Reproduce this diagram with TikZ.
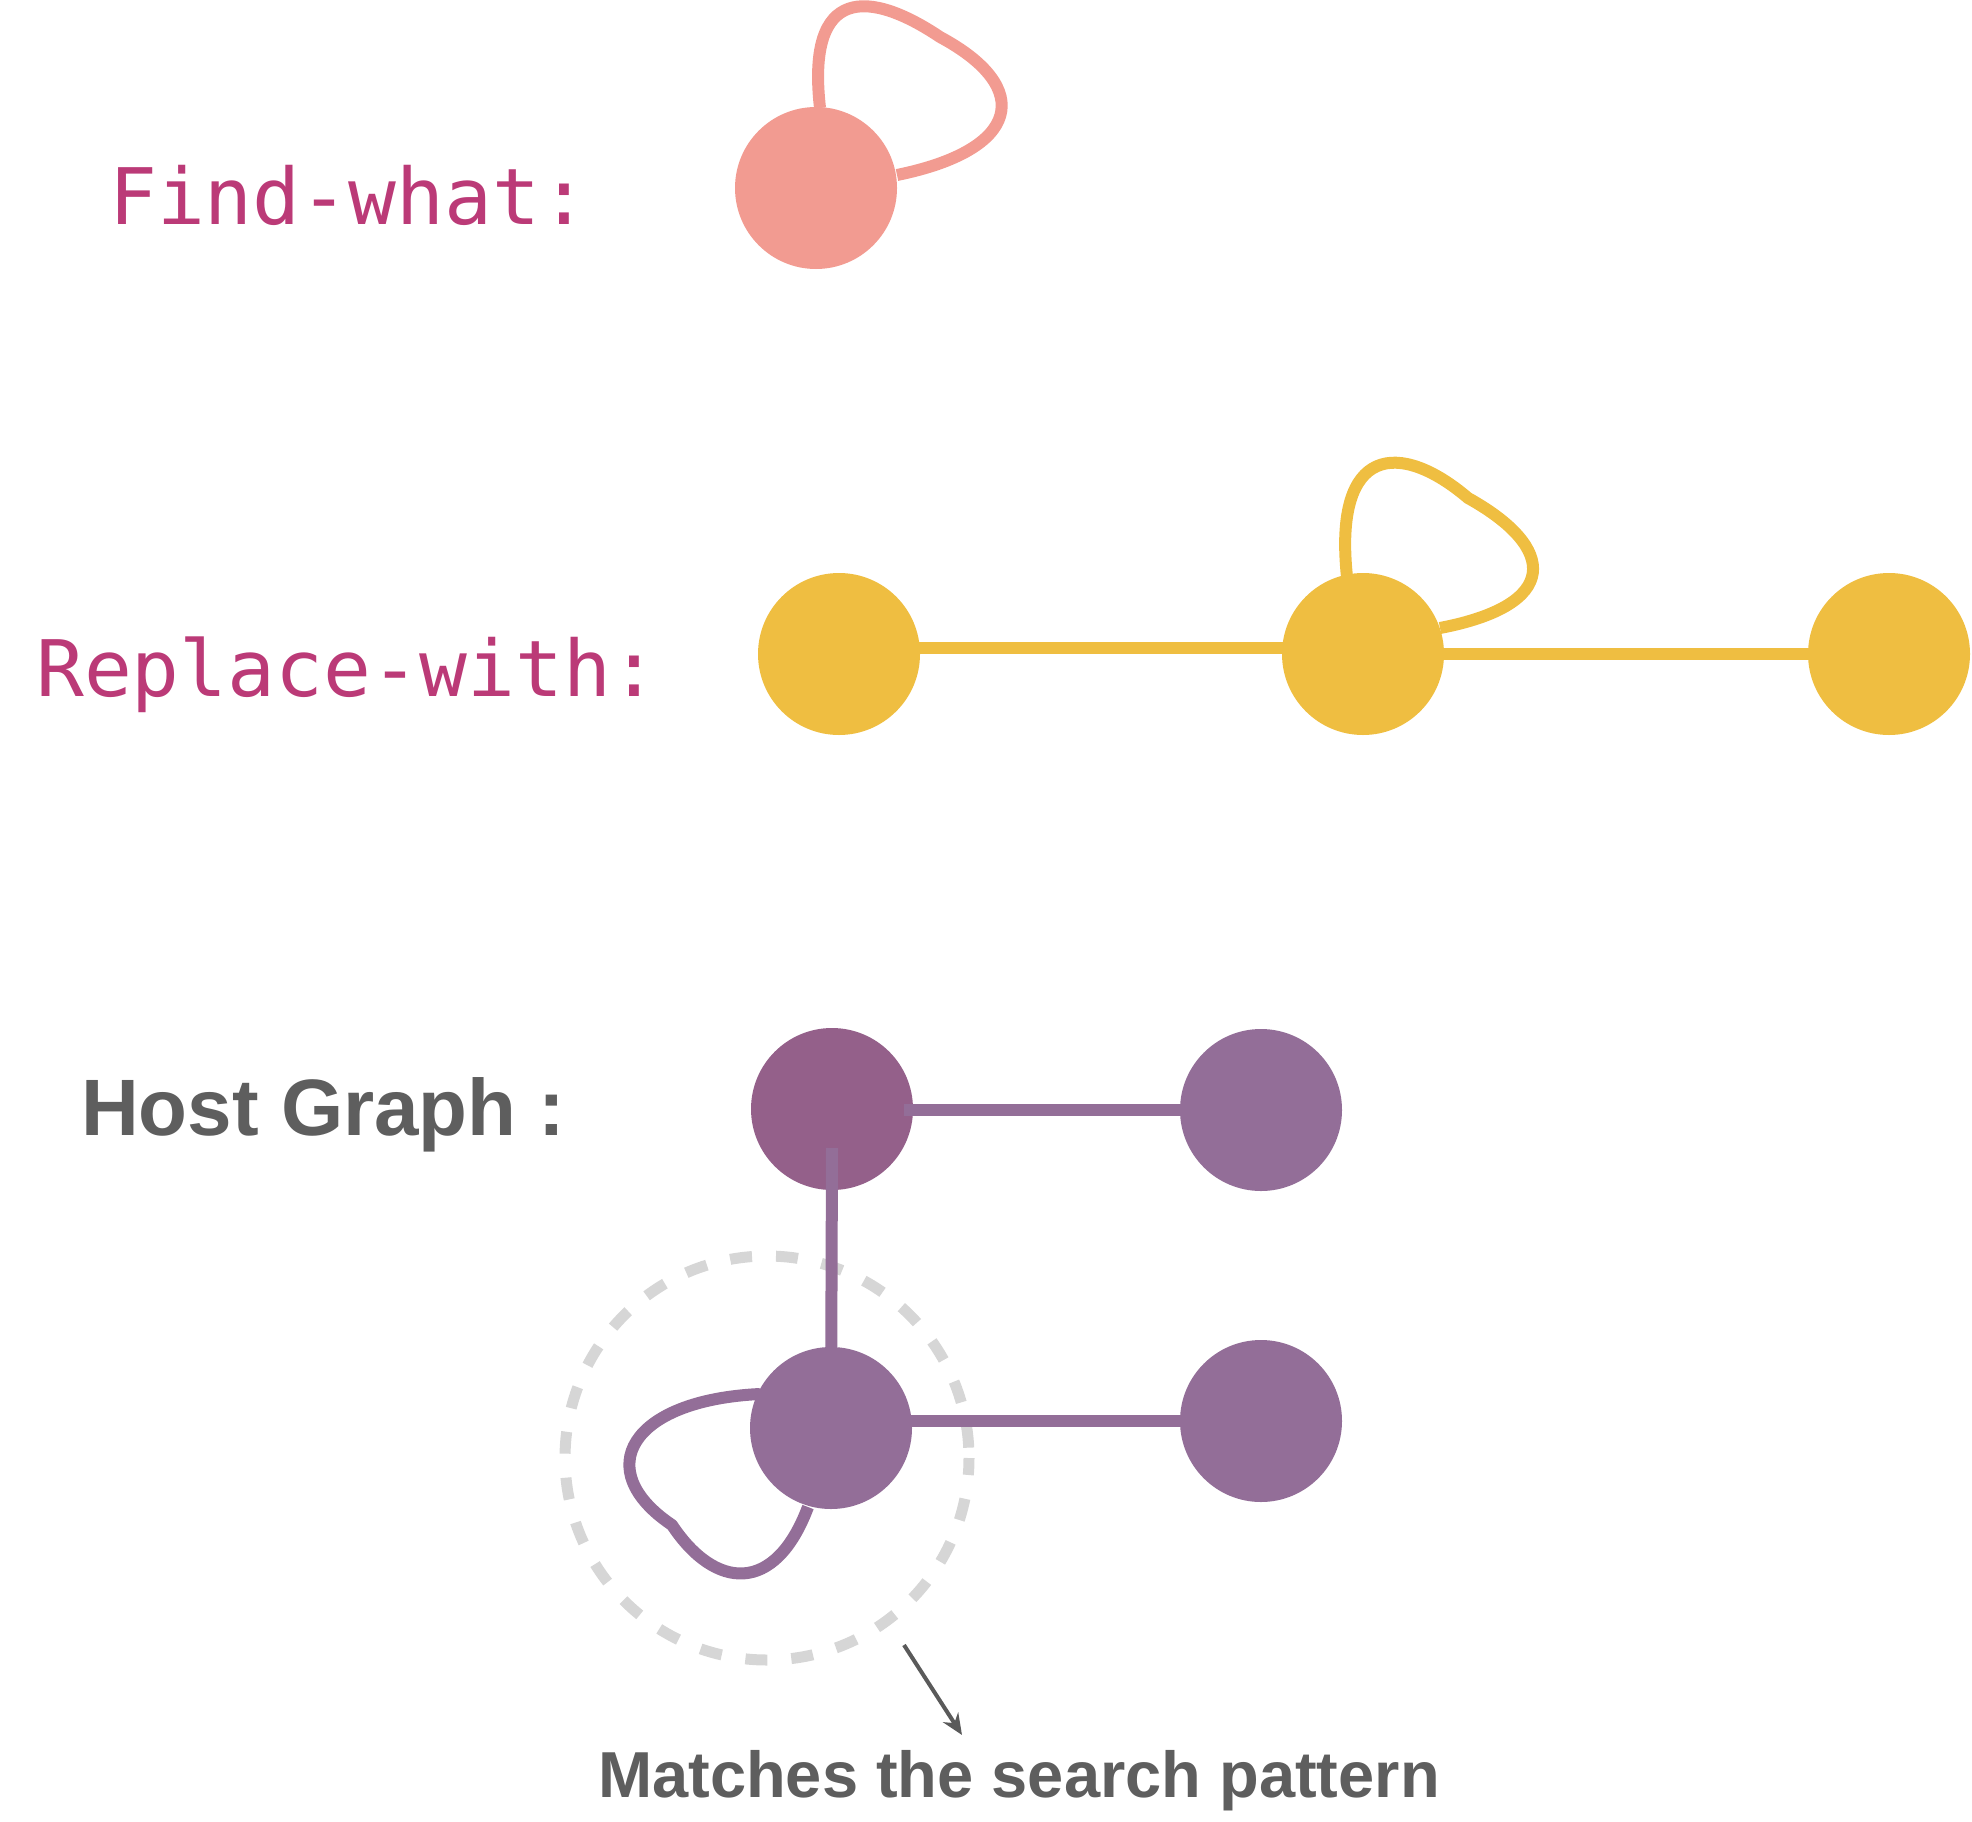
\documentclass[tikz,border=0pt]{standalone}
\usepackage{fontspec}
\usetikzlibrary{arrows.meta,calc}
\newfontfamily\codefont[FakeStretch=1.02]{DejaVu Sans Mono}
\newfontfamily\labelfont{Liberation Sans}
\definecolor{pinkc}{HTML}{F29B91}
\definecolor{yellowc}{HTML}{EFBE41}
\definecolor{purplec}{HTML}{936E98}
\definecolor{purpledark}{HTML}{94608A}
\definecolor{magentatext}{HTML}{BB3A77}
\definecolor{graytext}{HTML}{5E5E5E}
\definecolor{dashgray}{HTML}{D6D6D6}
\definecolor{arrowgray}{HTML}{5A5A5A}
\tikzset{
  vtx/.style={circle, minimum size=162pt, inner sep=0pt, draw=none},
  edgeline/.style={line width=12pt},
  codelabel/.style={anchor=base west, inner sep=0pt, text=magentatext, font=\codefont\fontsize{78}{90}\selectfont},
  boldlabel/.style={anchor=base west, inner sep=0pt, text=graytext, font=\labelfont\bfseries\fontsize{80}{95}\selectfont},
}
\begin{document}
\begin{tikzpicture}[x=1pt,y=-1pt]
\useasboundingbox (0,0) rectangle (1972,1822);

% ---------- Find-what ----------
\node[codelabel] (findlbl) at (109,224) {Find-what:};
\coordinate (p1c) at (816,188);
\draw[edgeline, pinkc, line join=round]
  ($(p1c)+(4,-80)$) .. controls (806,-15) and (870,-10) .. (940,37)
  .. controls (1035,88) and (1020,150) .. ($(p1c)+(81,-13)$);
\node[vtx, fill=pinkc] (p1) at (p1c) {};

% ---------- Replace-with ----------
\node[codelabel] (repllbl) at (36,696) {Replace-with:};
\coordinate (y1c) at (839,654);
\coordinate (y2c) at (1363,654);
\coordinate (y3c) at (1889,654);
\draw[edgeline, yellowc] ($(y1c)+(0,-6)$) -- ($(y2c)+(0,-6)$);
\draw[edgeline, yellowc] (y2c) -- (y3c);
\draw[edgeline, yellowc, line join=round]
  ($(y2c)+(-16,-77)$) .. controls (1333,445) and (1400,440) .. (1468,498)
  .. controls (1558,548) and (1560,605) .. ($(y2c)+(77,-26)$);
\node[vtx, fill=yellowc] (y1) at (y1c) {};
\node[vtx, fill=yellowc] (y2) at (y2c) {};
\node[vtx, fill=yellowc] (y3) at (y3c) {};

% ---------- Host Graph ----------
\node[boldlabel] (hostlbl) at (81,1135) {Host Graph :};
\draw[dashgray, line width=11pt, dash pattern=on 22pt off 24pt, dash phase=5pt] (767,1458) circle[radius=202];
\coordinate (h1c) at (832,1109);
\coordinate (h2c) at (1261,1110);
\coordinate (h3c) at (831,1428);
\coordinate (h4c) at (1261,1421);
\draw[edgeline, purplec, line join=round]
  ($(h3c)+(-71,-34)$) .. controls (630,1400) and (590,1470) .. (672,1525)
  .. controls (715,1590) and (775,1595) .. ($(h3c)+(-23,79)$);
\node[vtx, fill=purpledark] (h1) at (h1c) {};
\draw[edgeline, purplec] ($(h1.center)+(72,1)$) -- (h2c);
\node[vtx, fill=purplec] (h2) at (h2c) {};
\node[vtx, fill=purplec] (h3) at (h3c) {};
\node[vtx, fill=purplec] (h4) at (h4c) {};
\draw[edgeline, purplec] ($(h1.center)+(0,39)$) -- (h3);
\draw[edgeline, purplec] (h3.center |- h4.center) ++(80,0) -- (h4);

% ---------- annotation ----------
\node[anchor=base west, inner sep=0pt, text=graytext, font=\labelfont\bfseries\fontsize{65}{76}\selectfont] (matchlbl) at (598,1797) {Matches the search pattern};
\coordinate (arrfrom) at (904,1645);
\coordinate (arrto) at (962,1735);
\draw[arrowgray, line width=4pt, -{Stealth[length=21pt,width=18pt]}] (arrfrom) -- (arrto);
\end{tikzpicture}
\end{document}
